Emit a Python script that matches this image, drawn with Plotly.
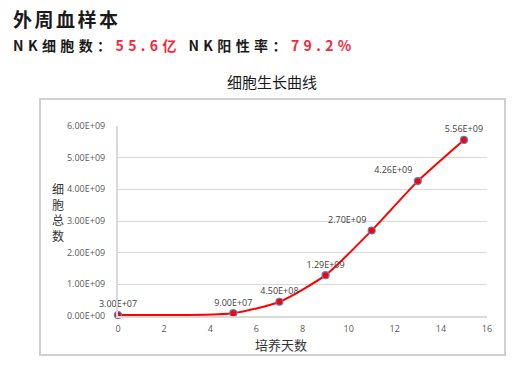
import plotly.graph_objects as go

# Data
days = [0, 5, 7, 9, 11, 13, 15]
cells = [3.0e7, 9.0e7, 4.5e8, 1.29e9, 2.70e9, 4.26e9, 5.56e9]
label_pos = ["top center", "top center", "top center", "top center", "top left", "top left", "top center"]
y_ticks = [0, 1e9, 2e9, 3e9, 4e9, 5e9, 6e9]
y_tick_text = ["0.00E+00", "1.00E+09", "2.00E+09", "3.00E+09", "4.00E+09", "5.00E+09", "6.00E+09"]
x_ticks = [0, 2, 4, 6, 8, 10, 12, 14, 16]

header = "外周血样本"
nk_count_label = "NK细胞数："
nk_count_value = "55.6亿"
nk_pos_label = "NK阳性率："
nk_pos_value = "79.2%"
chart_title = "细胞生长曲线"
x_title = "培养天数"
y_title = "细胞总数"

W, H = 526, 379
CJK = "Noto Sans CJK SC"
TICKF = "Open Sans"

def px(x):
    return x / W

def py(y):
    return 1 - y / H

fig = go.Figure()
fig.add_trace(go.Scatter(
    x=days, y=cells,
    mode="lines+markers+text",
    line=dict(color="#ff0000", width=2, shape="spline", smoothing=0.6),
    marker=dict(size=7, color="#ff0000", line=dict(color="#5b7fc7", width=1.2)),
    text=["%.2E" % v for v in cells],
    textposition=label_pos,
    textfont=dict(family=TICKF, size=9, color="#404040"),
    cliponaxis=False,
    hoverinfo="skip",
))

fig.update_layout(
    width=W, height=H,
    margin=dict(l=0, r=0, t=0, b=0, pad=0, autoexpand=False),
    paper_bgcolor="white", plot_bgcolor="white",
    showlegend=False,
    xaxis=dict(
        domain=[px(118), px(487)],
        range=[0, 16], tickvals=x_ticks,
        showgrid=False, zeroline=False, automargin=False,
        showline=True, linecolor="#d9d9d9", linewidth=1.5,
        ticks="", ticklabelstandoff=3,
        tickfont=dict(family=TICKF, size=9, color="#595959"),
    ),
    yaxis=dict(
        domain=[py(316), py(126)],
        range=[0, 6e9], tickvals=y_ticks, ticktext=y_tick_text,
        showgrid=True, gridcolor="#d9d9d9", gridwidth=1,
        zeroline=False, automargin=False,
        showline=True, linecolor="#d9d9d9", linewidth=2,
        ticks="", ticklabelstandoff=9,
        tickfont=dict(family=TICKF, size=9, color="#595959"),
    ),
    shapes=[dict(
        type="rect", xref="paper", yref="paper",
        x0=px(40), x1=px(505), y0=py(355), y1=py(99),
        line=dict(color="#d0d0d0", width=2), layer="below",
    )],
)

ann = []
ann.append(dict(
    x=px(11), y=py(18), xref="paper", yref="paper", xanchor="left", yanchor="middle",
    text='<b><span style="letter-spacing:2.5px">%s</span></b>' % header,
    showarrow=False, font=dict(family=CJK, size=19, color="#1a1a1a"),
))
ann.append(dict(
    x=px(11), y=py(45), xref="paper", yref="paper", xanchor="left", yanchor="middle",
    text=('<b><span style="letter-spacing:4.4px">%s<span style="color:#ee2a3a">%s</span> '
          '%s<span style="color:#ee2a3a">%s</span></span></b>') % (
        nk_count_label, nk_count_value, nk_pos_label, nk_pos_value),
    showarrow=False, font=dict(family=CJK, size=14, color="#1a1a1a"),
))
ann.append(dict(
    x=px(272), y=py(82), xref="paper", yref="paper", xanchor="center", yanchor="middle",
    text=chart_title, showarrow=False, font=dict(family=CJK, size=15, color="#1a1a1a"),
))
ann.append(dict(
    x=px(281), y=py(344), xref="paper", yref="paper", xanchor="center", yanchor="middle",
    text=x_title, showarrow=False, font=dict(family=CJK, size=13, color="#333333"),
))
ann.append(dict(
    x=px(58), y=py(212), xref="paper", yref="paper", xanchor="center", yanchor="middle",
    text="<br>".join(list(y_title)), showarrow=False,
    font=dict(family=CJK, size=12, color="#333333"),
))
fig.update_layout(annotations=ann)

fig.write_html("out.html", config={"displayModeBar": False},
               post_script="document.body.style.margin='0';")
